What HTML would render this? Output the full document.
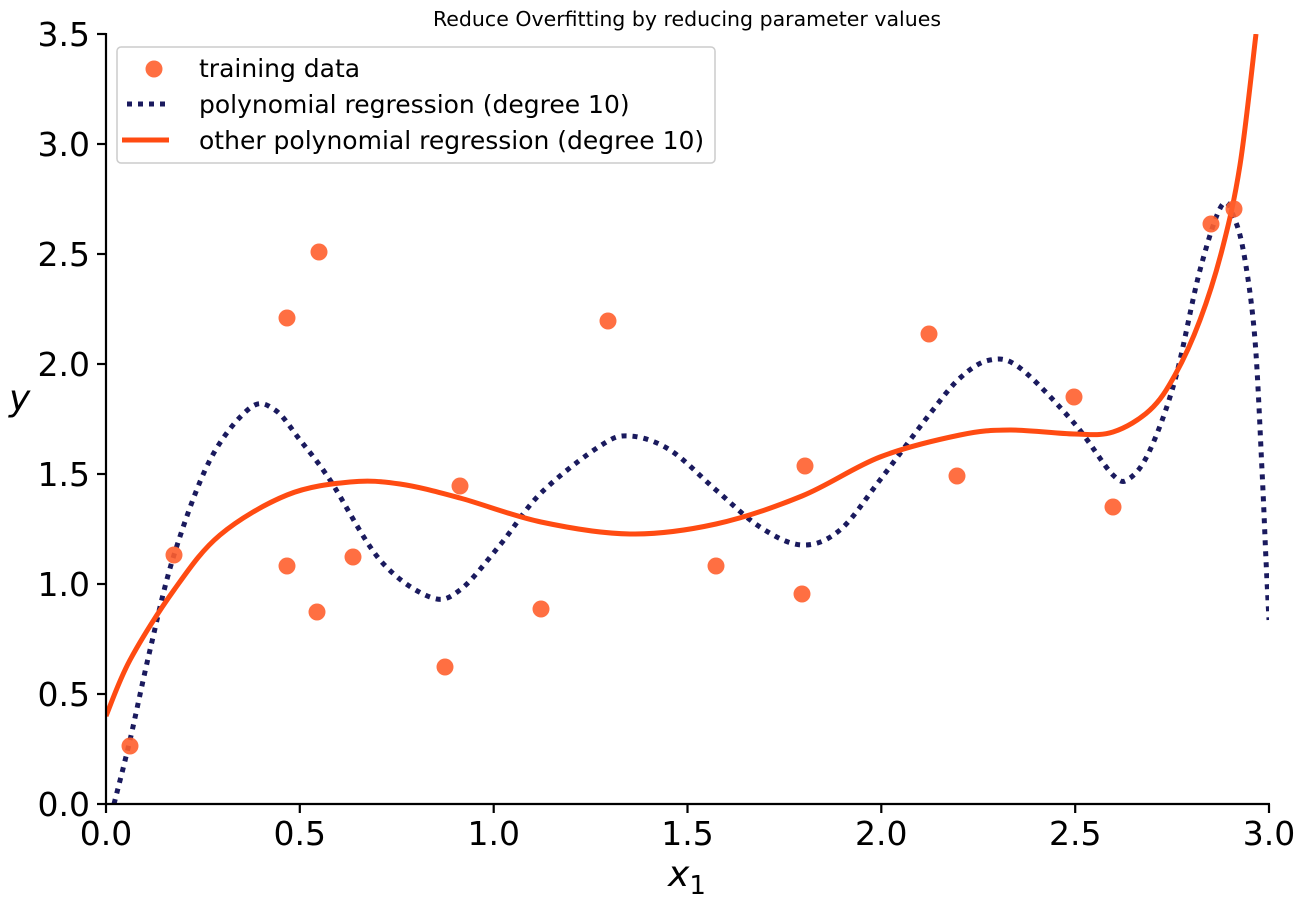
<!DOCTYPE html>
<html><head><style>body{margin:0;background:#fff}svg{display:block}text{font-family:"DejaVu Sans",sans-serif}</style></head>
<body>
<svg width="1305" height="906" viewBox="0 0 1305 906">
<defs><clipPath id="c"><rect x="106" y="34" width="1163" height="770"/></clipPath></defs>
<text x="687" y="26" font-size="20.5" text-anchor="middle">Reduce Overfitting by reducing parameter values</text>
<g clip-path="url(#c)">
<path id="pd" fill="none" stroke="#1a1a5e" stroke-width="5" stroke-dasharray="5,6" d=""/>
<path id="po" fill="none" stroke="#ff4b12" stroke-width="5" d=""/>
<g fill="#ff5f2e" fill-opacity="0.9">
<circle cx="130" cy="746" r="8.5"/><circle cx="174" cy="555" r="8.5"/><circle cx="287" cy="318" r="8.5"/><circle cx="287" cy="566" r="8.5"/><circle cx="317" cy="612" r="8.5"/><circle cx="319" cy="252" r="8.5"/><circle cx="353" cy="557" r="8.5"/><circle cx="445" cy="667" r="8.5"/><circle cx="460" cy="486" r="8.5"/><circle cx="541" cy="609" r="8.5"/><circle cx="608" cy="321" r="8.5"/><circle cx="716" cy="566" r="8.5"/><circle cx="802" cy="594" r="8.5"/><circle cx="805" cy="466" r="8.5"/><circle cx="929" cy="334" r="8.5"/><circle cx="957" cy="476" r="8.5"/><circle cx="1074" cy="397" r="8.5"/><circle cx="1113" cy="507" r="8.5"/><circle cx="1211" cy="224" r="8.5"/><circle cx="1234" cy="209" r="8.5"/>
</g>
</g>
<g stroke="#000" stroke-width="2.2">
<line x1="106" y1="33" x2="106" y2="805"/><line x1="105" y1="804" x2="1270" y2="804"/>
<line x1="106" y1="804" x2="106" y2="813"/><line x1="299.8" y1="804" x2="299.8" y2="813"/><line x1="493.7" y1="804" x2="493.7" y2="813"/><line x1="687.5" y1="804" x2="687.5" y2="813"/><line x1="881.3" y1="804" x2="881.3" y2="813"/><line x1="1075.2" y1="804" x2="1075.2" y2="813"/><line x1="1269" y1="804" x2="1269" y2="813"/>
<line x1="97" y1="804" x2="106" y2="804"/><line x1="97" y1="694" x2="106" y2="694"/><line x1="97" y1="584" x2="106" y2="584"/><line x1="97" y1="474" x2="106" y2="474"/><line x1="97" y1="364" x2="106" y2="364"/><line x1="97" y1="254" x2="106" y2="254"/><line x1="97" y1="144" x2="106" y2="144"/><line x1="97" y1="34" x2="106" y2="34"/>
</g>
<g font-size="33" text-anchor="middle">
<text x="106" y="845">0.0</text><text x="299.8" y="845">0.5</text><text x="493.7" y="845">1.0</text><text x="687.5" y="845">1.5</text><text x="881.3" y="845">2.0</text><text x="1075.2" y="845">2.5</text><text x="1269" y="845">3.0</text>
</g>
<g font-size="33" text-anchor="end">
<text x="90" y="816">0.0</text><text x="90" y="706">0.5</text><text x="90" y="596">1.0</text><text x="90" y="486">1.5</text><text x="90" y="376">2.0</text><text x="90" y="266">2.5</text><text x="90" y="156">3.0</text><text x="90" y="46">3.5</text>
</g>
<text x="668" y="886" font-size="36" font-style="italic">x<tspan font-size="26" dy="8" font-style="normal">1</tspan></text>
<text x="9" y="410" font-size="36" font-style="italic">y</text>
<rect x="117" y="47" width="598" height="116" rx="4" fill="#fff" fill-opacity="0.8" stroke="#ccc" stroke-width="1.5"/>
<circle cx="154" cy="69" r="8.5" fill="#ff5f2e" fill-opacity="0.9"/>
<line x1="127" y1="104" x2="170" y2="104" stroke="#1a1a5e" stroke-width="5" stroke-dasharray="5,6"/>
<line x1="122" y1="140" x2="169" y2="140" stroke="#ff4b12" stroke-width="5"/>
<g font-size="25"><text x="199" y="77">training data</text><text x="199" y="113">polynomial regression (degree 10)</text><text x="199" y="149">other polynomial regression (degree 10)</text></g>
</svg>
<script>
function cr(p){var d="M"+p[0][0]+","+p[0][1];for(var i=0;i<p.length-1;i++){var a=p[i-1]||p[i],b=p[i],c=p[i+1],e=p[i+2]||c;d+=" C"+(b[0]+(c[0]-a[0])/6)+","+(b[1]+(c[1]-a[1])/6)+" "+(c[0]-(e[0]-b[0])/6)+","+(c[1]-(e[1]-b[1])/6)+" "+c[0]+","+c[1];}return d;}
var D=[[114,804],[130,740],[150,650],[174,555],[210,460],[250,408],[275,410],[300,440],[330,480],[380,560],[430,597],[460,590],[500,545],[541,493],[600,446],[630,436],[670,450],[716,490],[760,527],[802,545],[840,530],[880,480],[929,415],[960,378],[990,360],[1020,368],[1074,423],[1113,475],[1130,478],[1150,450],[1175,380],[1200,270],[1222,205],[1235,220],[1245,260],[1255,340],[1262,470],[1266,560],[1269,620]];
var O=[[106,716],[130,660],[174,590],[220,535],[287,495],[350,482],[400,484],[460,498],[541,522],[630,534],[716,524],[802,496],[880,457],[960,435],[1010,430],[1074,434],[1113,432],[1150,410],[1175,375],[1200,320],[1222,250],[1240,165],[1256,34]];
document.getElementById("pd").setAttribute("d",cr(D));
document.getElementById("po").setAttribute("d",cr(O));
</script>
</body></html>
